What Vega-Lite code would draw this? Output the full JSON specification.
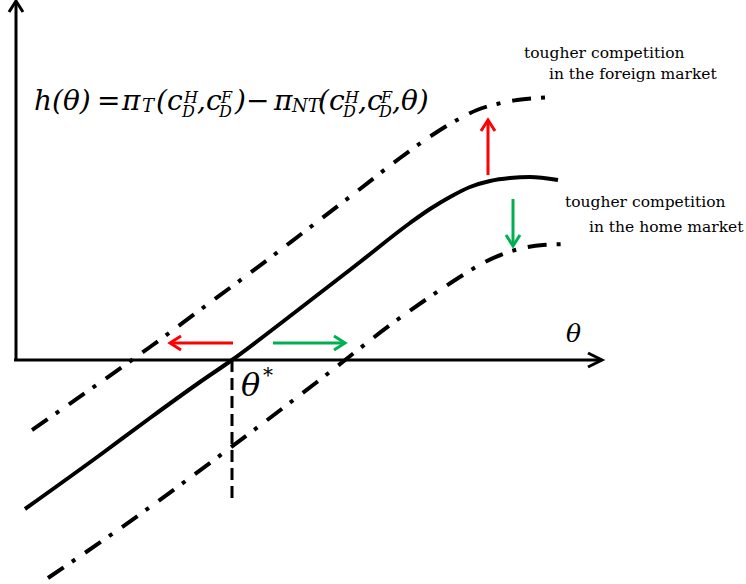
{
  "$schema": "https://vega.github.io/schema/vega-lite/v6.json",
  "width": 746,
  "height": 584,
  "padding": 0,
  "autosize": "none",
  "background": "white",
  "config": {"view": {"stroke": null}, "text": {"font": "DejaVu Serif", "color": "black", "align": "left", "baseline": "alphabetic"}},
  "datasets": {
    "curves": [
      {"curve": "h(θ)", "x": 9, "y": -149},
      {"curve": "h(θ)", "x": 84, "y": -95},
      {"curve": "h(θ)", "x": 134, "y": -58},
      {"curve": "h(θ)", "x": 184, "y": -22},
      {"curve": "h(θ)", "x": 216, "y": 0},
      {"curve": "h(θ)", "x": 269, "y": 40},
      {"curve": "h(θ)", "x": 344, "y": 98},
      {"curve": "h(θ)", "x": 394, "y": 137},
      {"curve": "h(θ)", "x": 414, "y": 151},
      {"curve": "h(θ)", "x": 434, "y": 163},
      {"curve": "h(θ)", "x": 454, "y": 173},
      {"curve": "h(θ)", "x": 474, "y": 179},
      {"curve": "h(θ)", "x": 494, "y": 182},
      {"curve": "h(θ)", "x": 514, "y": 183},
      {"curve": "h(θ)", "x": 542, "y": 180},
      {"curve": "foreign", "x": 16, "y": -70},
      {"curve": "foreign", "x": 82, "y": -24},
      {"curve": "foreign", "x": 134, "y": 13},
      {"curve": "foreign", "x": 184, "y": 50},
      {"curve": "foreign", "x": 234, "y": 87},
      {"curve": "foreign", "x": 284, "y": 125},
      {"curve": "foreign", "x": 344, "y": 171},
      {"curve": "foreign", "x": 384, "y": 202},
      {"curve": "foreign", "x": 421, "y": 228},
      {"curve": "foreign", "x": 441, "y": 240},
      {"curve": "foreign", "x": 461, "y": 250},
      {"curve": "foreign", "x": 481, "y": 256},
      {"curve": "foreign", "x": 501, "y": 260},
      {"curve": "foreign", "x": 521, "y": 262},
      {"curve": "foreign", "x": 539, "y": 263},
      {"curve": "home", "x": 32, "y": -218},
      {"curve": "home", "x": 99, "y": -172},
      {"curve": "home", "x": 214, "y": -88},
      {"curve": "home", "x": 301, "y": -22},
      {"curve": "home", "x": 381, "y": 40},
      {"curve": "home", "x": 427, "y": 72},
      {"curve": "home", "x": 447, "y": 85},
      {"curve": "home", "x": 467, "y": 97},
      {"curve": "home", "x": 487, "y": 106},
      {"curve": "home", "x": 507, "y": 112},
      {"curve": "home", "x": 527, "y": 115},
      {"curve": "home", "x": 556, "y": 116}
    ],
    "arrows": [
      {"arrow": "h axis", "part": "shaft", "i": 0, "x": 0, "y": 0},
      {"arrow": "h axis", "part": "shaft", "i": 1, "x": 0, "y": 358},
      {"arrow": "h axis", "part": "head", "i": 0, "x": -7, "y": 348},
      {"arrow": "h axis", "part": "head", "i": 1, "x": 0, "y": 359},
      {"arrow": "h axis", "part": "head", "i": 2, "x": 7, "y": 348},
      {"arrow": "θ axis", "part": "shaft", "i": 0, "x": -2, "y": 0},
      {"arrow": "θ axis", "part": "shaft", "i": 1, "x": 585, "y": 0},
      {"arrow": "θ axis", "part": "head", "i": 0, "x": 572, "y": 7},
      {"arrow": "θ axis", "part": "head", "i": 1, "x": 586, "y": 0},
      {"arrow": "θ axis", "part": "head", "i": 2, "x": 572, "y": -7},
      {"arrow": "to the left", "part": "shaft", "i": 0, "x": 217, "y": 17},
      {"arrow": "to the left", "part": "shaft", "i": 1, "x": 155, "y": 17},
      {"arrow": "to the left", "part": "head", "i": 0, "x": 165, "y": 24},
      {"arrow": "to the left", "part": "head", "i": 1, "x": 154, "y": 17},
      {"arrow": "to the left", "part": "head", "i": 2, "x": 165, "y": 10},
      {"arrow": "to the right", "part": "shaft", "i": 0, "x": 257, "y": 17},
      {"arrow": "to the right", "part": "shaft", "i": 1, "x": 328, "y": 17},
      {"arrow": "to the right", "part": "head", "i": 0, "x": 318, "y": 24},
      {"arrow": "to the right", "part": "head", "i": 1, "x": 329, "y": 17},
      {"arrow": "to the right", "part": "head", "i": 2, "x": 318, "y": 10},
      {"arrow": "upward", "part": "shaft", "i": 0, "x": 472, "y": 185},
      {"arrow": "upward", "part": "shaft", "i": 1, "x": 472, "y": 239},
      {"arrow": "upward", "part": "head", "i": 0, "x": 465, "y": 229},
      {"arrow": "upward", "part": "head", "i": 1, "x": 472, "y": 240},
      {"arrow": "upward", "part": "head", "i": 2, "x": 479, "y": 229},
      {"arrow": "downward", "part": "shaft", "i": 0, "x": 497, "y": 161},
      {"arrow": "downward", "part": "shaft", "i": 1, "x": 497, "y": 115},
      {"arrow": "downward", "part": "head", "i": 0, "x": 490, "y": 125},
      {"arrow": "downward", "part": "head", "i": 1, "x": 497, "y": 114},
      {"arrow": "downward", "part": "head", "i": 2, "x": 504, "y": 125}
    ],
    "guide": [
      {"i": 0, "x": 216, "y": 0},
      {"i": 1, "x": 216, "y": -143}
    ],
    "formula": [
      {"role": "base", "text": "h(θ)", "x": 18, "y": 250},
      {"role": "base", "text": "=", "x": 81, "y": 250},
      {"role": "base", "text": "π", "x": 106, "y": 250},
      {"role": "base", "text": "(c", "x": 140, "y": 250},
      {"role": "base", "text": ",c", "x": 181, "y": 250},
      {"role": "base", "text": ")", "x": 219, "y": 250},
      {"role": "base", "text": "−", "x": 230, "y": 250},
      {"role": "base", "text": "π", "x": 258, "y": 250},
      {"role": "base", "text": "(c", "x": 302, "y": 250},
      {"role": "base", "text": ",c", "x": 342, "y": 250},
      {"role": "base", "text": ",θ)", "x": 376, "y": 250},
      {"role": "index", "text": "T", "x": 126, "y": 248},
      {"role": "index", "text": "NT", "x": 276, "y": 248},
      {"role": "script", "text": "H", "x": 168, "y": 257},
      {"role": "script", "text": "D", "x": 166, "y": 243},
      {"role": "script", "text": "F", "x": 205, "y": 257},
      {"role": "script", "text": "D", "x": 203, "y": 243},
      {"role": "script", "text": "H", "x": 329, "y": 257},
      {"role": "script", "text": "D", "x": 327, "y": 243},
      {"role": "script", "text": "F", "x": 365, "y": 257},
      {"role": "script", "text": "D", "x": 363, "y": 243}
    ],
    "notes": [
      {"text": "tougher competition", "x": 508, "y": 302},
      {"text": "in the foreign market", "x": 533, "y": 281},
      {"text": "tougher competition", "x": 549, "y": 153},
      {"text": "in the home market", "x": 573, "y": 128}
    ],
    "symbols": [
      {"role": "axis", "text": "θ", "x": 550, "y": 18},
      {"role": "star", "text": "θ", "x": 225, "y": -36},
      {"role": "starmark", "text": "*", "x": 247, "y": -22}
    ]
  },
  "encoding": {
    "x": {"field": "x", "type": "quantitative", "scale": {"domain": [-16, 730], "nice": false, "zero": false}, "axis": null},
    "y": {"field": "y", "type": "quantitative", "scale": {"domain": [-224, 360], "nice": false, "zero": false}, "axis": null}
  },
  "layer": [
    {
      "data": {"name": "guide"},
      "mark": {"type": "line", "color": "black", "strokeWidth": 3, "strokeDash": [12, 6]},
      "encoding": {"order": {"field": "i"}}
    },
    {
      "data": {"name": "curves"},
      "transform": [{"filter": "datum.curve === 'h(θ)'"}],
      "mark": {"type": "line", "color": "black", "strokeWidth": 4, "interpolate": "monotone"},
      "encoding": {"order": {"field": "x"}}
    },
    {
      "data": {"name": "curves"},
      "transform": [{"filter": "datum.curve !== 'h(θ)'"}],
      "mark": {"type": "line", "color": "black", "strokeWidth": 4, "interpolate": "monotone", "strokeDash": [19, 10, 4, 12]},
      "encoding": {"detail": {"field": "curve"}, "order": {"field": "x"}}
    },
    {
      "data": {"name": "arrows"},
      "mark": {"type": "line", "strokeWidth": 3, "strokeJoin": "miter", "strokeCap": "butt"},
      "encoding": {
        "detail": {"field": "part"},
        "order": {"field": "i"},
        "color": {
          "field": "arrow",
          "type": "nominal",
          "scale": {
            "domain": ["h axis", "θ axis", "to the left", "to the right", "upward", "downward"],
            "range": ["#000000", "#000000", "#ff0000", "#00b050", "#ff0000", "#00b050"]
          },
          "legend": null
        }
      }
    },
    {
      "data": {"name": "formula"},
      "transform": [{"filter": "datum.role === 'base'"}],
      "mark": {"type": "text", "fontStyle": "italic", "fontSize": 28},
      "encoding": {"text": {"field": "text"}}
    },
    {
      "data": {"name": "formula"},
      "transform": [{"filter": "datum.role === 'index'"}],
      "mark": {"type": "text", "fontStyle": "italic", "fontSize": 18},
      "encoding": {"text": {"field": "text"}}
    },
    {
      "data": {"name": "formula"},
      "transform": [{"filter": "datum.role === 'script'"}],
      "mark": {"type": "text", "fontStyle": "italic", "fontSize": 16},
      "encoding": {"text": {"field": "text"}}
    },
    {
      "data": {"name": "notes"},
      "mark": {"type": "text", "fontSize": 15.5},
      "encoding": {"text": {"field": "text"}}
    },
    {
      "data": {"name": "symbols"},
      "transform": [{"filter": "datum.role === 'axis'"}],
      "mark": {"type": "text", "fontStyle": "italic", "fontSize": 25},
      "encoding": {"text": {"field": "text"}}
    },
    {
      "data": {"name": "symbols"},
      "transform": [{"filter": "datum.role === 'star'"}],
      "mark": {"type": "text", "fontStyle": "italic", "fontSize": 32},
      "encoding": {"text": {"field": "text"}}
    },
    {
      "data": {"name": "symbols"},
      "transform": [{"filter": "datum.role === 'starmark'"}],
      "mark": {"type": "text", "fontSize": 20},
      "encoding": {"text": {"field": "text"}}
    }
  ]
}
